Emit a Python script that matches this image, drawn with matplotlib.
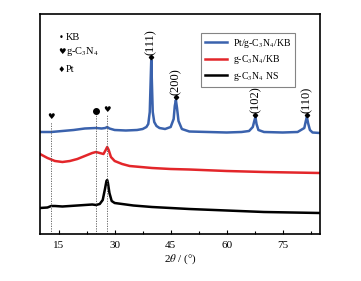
import matplotlib
matplotlib.use("Agg")
import matplotlib.pyplot as plt
from matplotlib.ticker import MultipleLocator

plt.rcParams['font.family'] = ['Liberation Serif', 'DejaVu Sans']
plt.rcParams['mathtext.fontset'] = 'stix'

# Pt/g-C3N4/KB (blue), intensity in arbitrary units
x_blue = [10, 13, 16, 19, 22, 25, 26.5, 27.5, 28, 28.6, 30, 33, 36, 37.5, 38.5, 39.0, 39.4,
          39.6, 39.8, 40.0, 40.2, 40.6, 41.2, 42, 43.5, 45, 45.8, 46.1, 46.4, 46.7, 47.1, 48,
          50, 55, 60, 64, 66, 67, 67.4, 67.7, 68.0, 68.5, 70, 75, 79, 80.8, 81.2, 81.5, 81.8,
          82.3, 83, 85]
y_blue = [102, 102, 103, 104, 105.5, 106, 105.5, 106, 107, 105.5, 104, 103.5, 104, 105, 107,
          110, 122, 148, 174, 148, 122, 112, 108, 106, 105, 107, 115, 128, 134, 126, 113, 105,
          102.5, 102, 101.5, 102, 103, 107, 113, 117, 110, 104, 102, 101.5, 102, 106, 113,
          117, 111, 104, 101.5, 101]

# g-C3N4/KB (red)
x_red = [10, 12, 14, 16, 18, 20, 22, 24, 25, 26, 27, 27.6, 28, 28.4, 29, 30, 32, 34, 37, 40, 45,
         50, 60, 70, 85]
y_red = [80, 76, 73, 72, 73, 75, 78, 81, 82, 81, 80, 84, 87, 84, 77, 73, 70, 68, 67, 66, 65,
         64.5, 63, 62, 61]

# g-C3N4 NS (black)
x_black = [10, 12, 13, 14, 16, 20, 24, 25, 26, 26.8, 27.4, 27.8, 28.0, 28.2, 28.6, 29.2, 30, 32,
           35, 40, 50, 60, 70, 85]
y_black = [26, 26.5, 28, 28, 27.5, 28.5, 29.5, 29, 30, 34, 45, 53, 54, 51, 41, 33, 31, 30, 28.5,
           27, 25, 23.5, 22, 21]

# Pt reflections
pt_pos = [39.8, 46.4, 67.7, 81.5]
pt_top = [177, 137, 119, 119]
pt_labels = ['(111)', '(200)', '(102)', '(110)']

# reference lines
ref_pos = [13, 25, 28]
ref_top = [112, 119, 119]

fig = plt.figure(figsize=(3.61, 2.81), dpi=100)
ax = fig.add_axes([40 / 361, 47 / 281, 280 / 361, 220 / 281])

ax.plot(x_blue, y_blue, color='#3a62ad', lw=1.8, label='Pt/g-C$_3$N$_4$/KB')
ax.plot(x_red, y_red, color='#e3262a', lw=1.8, label='g-C$_3$N$_4$/KB')
ax.plot(x_black, y_black, color='black', lw=1.8, label='g-C$_3$N$_4$ NS')

for xp, yt in zip(ref_pos, ref_top):
    ax.plot([xp, xp], [0, yt], color='#555555', lw=0.6, ls=(0, (1.5, 1.5)))

ax.text(ref_pos[0], ref_top[0] + 1, '♥', family='DejaVu Sans', fontsize=6, ha='center', va='bottom')
ax.plot(ref_pos[1], ref_top[1] + 4, 'o', color='black', ms=4)
ax.text(ref_pos[2], ref_top[2] + 1, '♥', family='DejaVu Sans', fontsize=6, ha='center', va='bottom')

ax.plot(pt_pos, pt_top, 'D', color='black', ms=2.2, ls='none')
for xp, yt, lab in zip(pt_pos, pt_top, pt_labels):
    ax.text(xp, yt + 2, lab, rotation=90, fontsize=9, ha='center', va='bottom')

# symbol key
key_sym = ['•', '♥', '♦']
key_txt = ['KB', 'g-C$_3$N$_4$', 'Pt']
key_y = [196, 182, 165]
for s, t, yk in zip(key_sym, key_txt, key_y):
    ax.text(15.8, yk, s, family='DejaVu Sans', fontsize=6, ha='center', va='center')
    ax.text(17.0, yk, t, fontsize=7.5, ha='left', va='center')

leg = ax.legend(loc='upper right', bbox_to_anchor=(0.911, 0.914), fontsize=7, frameon=True,
                fancybox=False, edgecolor='#666666', handlelength=2.3, borderpad=0.4,
                labelspacing=0.35, handletextpad=0.6, borderaxespad=0)
leg.get_frame().set_linewidth(0.8)

ax.set_xlim(10, 85)
ax.set_ylim(0, 220)
ax.xaxis.set_major_locator(MultipleLocator(15))
ax.xaxis.set_minor_locator(MultipleLocator(7.5))
ax.set_yticks([])
ax.tick_params(axis='x', which='major', direction='in', length=3, width=0.8, labelsize=8, pad=5)
ax.tick_params(axis='x', which='minor', direction='in', length=2, width=0.8)
for sp in ax.spines.values():
    sp.set_linewidth(1.2)
ax.set_xlabel(r'2$\theta$ / (°)', fontsize=8, labelpad=2)

fig.savefig('out.png', dpi=100)
